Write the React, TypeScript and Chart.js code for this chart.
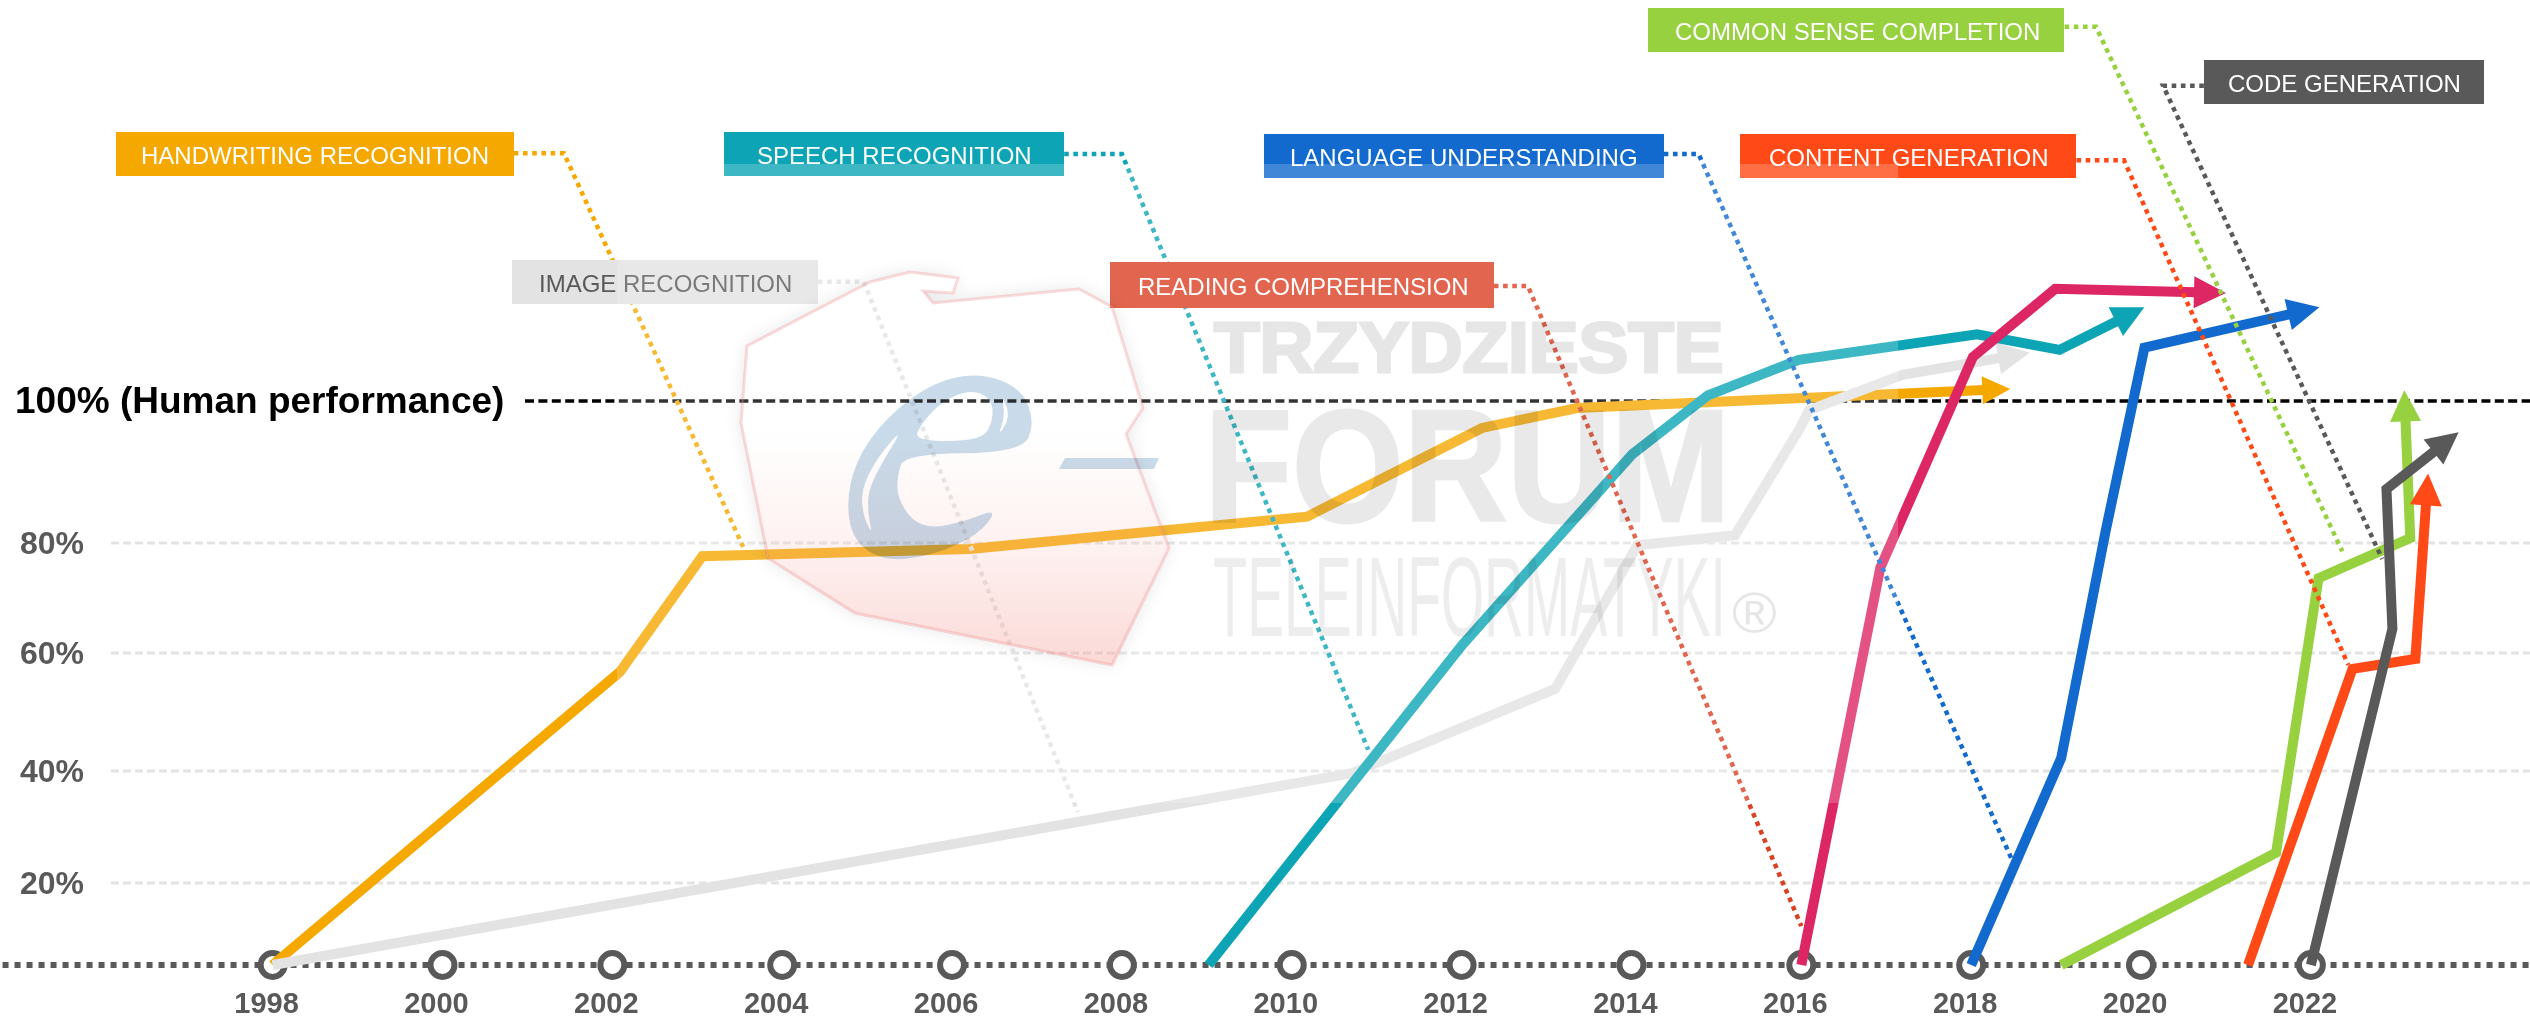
import React, { useEffect, useRef } from "react";
import { Chart, registerables, LinearScale } from "chart.js";

// ---------- chart data: [year, percent] ----------
const handwritingYears = [1998, 2002.09, 2003.06, 2006.21, 2010.18, 2012.24, 2013.36, 2015.95, 2018.46];
const handwritingValues = [0, 56.8, 77.6, 78.9, 83.7, 96.2, 99.0, 100.4, 101.7];
const imageYears = [1998, 2010.71, 2013.1, 2014.07, 2015.22, 2015.99, 2016.09, 2017.19, 2018.07, 2018.69];
const imageValues = [0, 39.6, 53.9, 79.6, 81.1, 96.3, 98.7, 103.7, 105.5, 106.8];
const speechYears = [2009.02, 2012.01, 2014.01, 2014.9, 2015.97, 2018.07, 2019.04, 2020.04];
const speechValues = [0, 61.5, 92.5, 100.8, 105.8, 109.4, 107.2, 113.2];
const readingYears = [2016, 2016.93, 2018.02, 2018.99, 2021.0];
const readingValues = [0, 75.5, 106.2, 115.8, 115.2];
const languageYears = [2018, 2019.06, 2019.58, 2020.04, 2022.1];
const languageValues = [0, 42.2, 81.5, 107.5, 113.2];
const commonYears = [2019.06, 2021.59, 2022.09, 2023.17, 2023.1];
const commonValues = [0, 25.4, 73.6, 80.7, 101.5];
const contentYears = [2021.26, 2022.49, 2023.23, 2023.38];
const contentValues = [0, 57.3, 59.0, 89.8];
const codeYears = [2022, 2022.96, 2022.89, 2023.74];
const codeValues = [0, 64.4, 87.6, 95.6];

// ---------- leader lines from label to curve ----------
const leaderHandwritingYears = [2000.84, 2001.43, 2003.54];
const leaderHandwritingValues = [134.9, 134.9, 79.3];
const leaderImageYears = [2004.42, 2004.96, 2007.48];
const leaderImageValues = [116.8, 116.8, 32.7];
const leaderSpeechYears = [2007.32, 2008.0, 2010.9];
const leaderSpeechValues = [134.8, 134.8, 43.6];
const leaderLanguageYears = [2014.38, 2014.79, 2018.47];
const leaderLanguageValues = [134.8, 134.8, 24.5];
const leaderContentYears = [2019.24, 2019.8, 2022.44];
const leaderContentValues = [133.9, 133.9, 58.0];
const leaderReadingYears = [2012.38, 2012.78, 2016.0];
const leaderReadingValues = [116.2, 116.2, 9.5];
const leaderCommonYears = [2019.1, 2019.47, 2022.37];
const leaderCommonValues = [152.7, 152.7, 78.5];
const leaderCodeYears = [2020.74, 2020.26, 2022.84];
const leaderCodeValues = [144.4, 144.4, 77.1];

const yearTicks = [1998, 2000, 2002, 2004, 2006, 2008, 2010, 2012, 2014, 2016, 2018, 2020, 2022];
const percentTicks = [20, 40, 60, 80, 100];
const seriesLabels = [
  "HANDWRITING RECOGNITION",
  "IMAGE RECOGNITION",
  "SPEECH RECOGNITION",
  "READING COMPREHENSION",
  "LANGUAGE UNDERSTANDING",
  "COMMON SENSE COMPLETION",
  "CONTENT GENERATION",
  "CODE GENERATION",
];

// ---------- styles and layout ----------
const ORANGE = "#F5A800";
const LIGHT = "#E3E3E3";
const TEAL = "#0DA5B5";
const PINK = "#DD2765";
const RED = "#DB4024";
const BLUE = "#1269CE";
const GREEN = "#97D13F";
const FLAME = "#FF4A17";
const DARK = "#595959";
const SANS = '"Liberation Sans", Arial, sans-serif';

// the reference's value axis is unevenly spaced: value stops and where they sit on the canvas
const axisStopValues = [0, 20, 40, 60, 80, 100];
const axisStopPixels = [965, 883, 771, 653, 543, 401];

class UnevenScale extends LinearScale {
  static id = "uneven";
  static defaults = {};
  getPixelForValue(v: number) {
    const n = axisStopValues.length;
    let i = 0;
    if (v >= axisStopValues[n - 1]) i = n - 2;
    else while (i < n - 2 && v > axisStopValues[i + 1]) i++;
    const t = (v - axisStopValues[i]) / (axisStopValues[i + 1] - axisStopValues[i]);
    return axisStopPixels[i] + t * (axisStopPixels[i + 1] - axisStopPixels[i]);
  }
  _computeLabelItems(area: any) {
    const items = (LinearScale.prototype as any)._computeLabelItems.call(this, area);
    items.forEach((it: any) => {
      const t = it.options.translation;
      const big = String(it.label).startsWith("100%");
      it.options.translation = [t[0] - (big ? 5 : 0), t[1] + 2];
    });
    return items;
  }
}

Chart.register(...registerables, UnevenScale);

const labelBoxes = [
  { fill: ORANGE, ink: "#fff", x: 116, y: 132, w: 398, h: 44, tx: 141 },
  { fill: LIGHT, ink: DARK, x: 512, y: 260, w: 306, h: 44, tx: 539 },
  { fill: TEAL, ink: "#fff", x: 724, y: 132, w: 340, h: 44, tx: 757 },
  { fill: RED, ink: "#fff", x: 1110, y: 262, w: 384, h: 46, tx: 1138 },
  { fill: BLUE, ink: "#fff", x: 1264, y: 134, w: 400, h: 44, tx: 1290 },
  { fill: GREEN, ink: "#fff", x: 1648, y: 8, w: 416, h: 44, tx: 1675 },
  { fill: FLAME, ink: "#fff", x: 1740, y: 134, w: 336, h: 44, tx: 1769 },
  { fill: DARK, ink: "#fff", x: 2204, y: 60, w: 280, h: 44, tx: 2228 },
];

const polandOutline = [
  [910, 272], [958, 278], [953, 293], [923, 291], [933, 303], [1079, 289], [1112, 307],
  [1143, 408], [1126, 434], [1169, 548], [1112, 665], [855, 613], [768, 558], [741, 423],
  [747, 346], [870, 282],
];

// outline of the logo's "e", in the watermark's own drawing units
const logoBody = [
  [965, 608], [1005, 520], [965, 415], [840, 368], [700, 395], [555, 505], [465, 635], [438, 770],
  [465, 880], [560, 935], [700, 915], [835, 855], [895, 775], [800, 812], [700, 835], [635, 812],
  [592, 740], [592, 680], [612, 612],
];
const logoEye = [[640, 573], [845, 573], [880, 510], [875, 445], [810, 418], [725, 455], [665, 520]];
const logoSwoosh = [[612, 530], [530, 625], [483, 720], [490, 800], [518, 855], [503, 790], [505, 720], [545, 640]];
const logoGlint = [[905, 435], [932, 500], [892, 562], [915, 500]];

function zip(xs: number[], ys: number[]) {
  return xs.map((x, i) => ({ x, y: ys[i] }));
}

function fitText(ctx: CanvasRenderingContext2D, text: string, font: string, x0: number, x1: number, top: number, bottom: number, color: string) {
  ctx.save();
  ctx.globalCompositeOperation = "multiply";
  ctx.font = font;
  ctx.textBaseline = "alphabetic";
  ctx.textAlign = "left";
  ctx.fillStyle = color;
  const m = ctx.measureText(text);
  const w = m.actualBoundingBoxLeft + m.actualBoundingBoxRight;
  const h = m.actualBoundingBoxAscent + m.actualBoundingBoxDescent;
  ctx.translate(x0, top);
  ctx.scale((x1 - x0) / w, (bottom - top) / h);
  ctx.fillText(text, m.actualBoundingBoxLeft, m.actualBoundingBoxAscent);
  ctx.restore();
}

// fill + stroke in one compositing step, so overlaps don't darken twice
function heavyText(ctx: CanvasRenderingContext2D, text: string, font: string, x0: number, x1: number, top: number, bottom: number, color: string, stroke: number) {
  const off = document.createElement("canvas");
  off.width = 2530;
  off.height = 1024;
  const o = off.getContext("2d") as CanvasRenderingContext2D;
  o.font = font;
  o.textBaseline = "alphabetic";
  o.fillStyle = color;
  o.strokeStyle = color;
  o.lineJoin = "miter";
  const m = o.measureText(text);
  const w = m.actualBoundingBoxLeft + m.actualBoundingBoxRight;
  const h = m.actualBoundingBoxAscent + m.actualBoundingBoxDescent;
  o.translate(x0, top);
  o.scale((x1 - x0) / w, (bottom - top) / h);
  o.lineWidth = stroke;
  o.fillText(text, m.actualBoundingBoxLeft, m.actualBoundingBoxAscent);
  o.strokeText(text, m.actualBoundingBoxLeft, m.actualBoundingBoxAscent);
  ctx.save();
  ctx.globalCompositeOperation = "multiply";
  ctx.drawImage(off, 0, 0);
  ctx.restore();
}

function smoothLoop(ctx: CanvasRenderingContext2D, pts: number[][]) {
  const P = (p: number[]) => [700 + p[0] / 3, 250 + p[1] / 3];
  const n = pts.length;
  const a = P(pts[0]);
  const b = P(pts[n - 1]);
  ctx.moveTo((a[0] + b[0]) / 2, (a[1] + b[1]) / 2);
  for (let i = 0; i < n; i++) {
    const c = P(pts[i]);
    const d = P(pts[(i + 1) % n]);
    ctx.quadraticCurveTo(c[0], c[1], (c[0] + d[0]) / 2, (c[1] + d[1]) / 2);
  }
  ctx.closePath();
}

const gridPlugin = {
  id: "referenceLines",
  beforeDatasetsDraw(chart: any) {
    const { ctx, scales } = chart;
    ctx.save();
    for (const v of percentTicks) {
      const y = scales.y.getPixelForValue(v);
      ctx.beginPath();
      if (v === 100) {
        ctx.strokeStyle = "#000";
        ctx.lineWidth = 3.5;
        ctx.setLineDash([9, 4.4]);
        ctx.moveTo(525, y);
      } else {
        ctx.strokeStyle = LIGHT;
        ctx.lineWidth = 3;
        ctx.setLineDash([8, 4]);
        ctx.moveTo(111, y);
      }
      ctx.lineTo(2530, y);
      ctx.stroke();
    }
    ctx.restore();
  },
};

const arrowPlugin = {
  id: "arrowHeads",
  beforeDatasetDraw(chart: any, args: any) {
    const ds = chart.data.datasets[args.index];
    if (!ds.arrowSize) return;
    const { x: xs, y: ys } = chart.scales;
    const pts = args.meta.data;
    const n = ds.data.length;
    const tx = xs.getPixelForValue(ds.data[n - 1].x);
    const ty = ys.getPixelForValue(ds.data[n - 1].y);
    const px = xs.getPixelForValue(ds.data[n - 2].x);
    const py = ys.getPixelForValue(ds.data[n - 2].y);
    const len = Math.hypot(tx - px, ty - py);
    pts[n - 1].x = tx - ((tx - px) / len) * (ds.arrowSize - 2);
    pts[n - 1].y = ty - ((ty - py) / len) * (ds.arrowSize - 2);
  },
  afterDatasetDraw(chart: any, args: any) {
    const ds = chart.data.datasets[args.index];
    if (!ds.arrowSize) return;
    const { ctx } = chart;
    const { x: xs, y: ys } = chart.scales;
    const n = ds.data.length;
    const tx = xs.getPixelForValue(ds.data[n - 1].x);
    const ty = ys.getPixelForValue(ds.data[n - 1].y);
    const px = xs.getPixelForValue(ds.data[n - 2].x);
    const py = ys.getPixelForValue(ds.data[n - 2].y);
    const a = Math.atan2(ty - py, tx - px);
    const s = ds.arrowSize;
    ctx.save();
    ctx.translate(tx, ty);
    ctx.rotate(a);
    ctx.fillStyle = ds.borderColor;
    ctx.beginPath();
    ctx.moveTo(0, 0);
    ctx.lineTo(-s, -s / 2);
    ctx.lineTo(-s, s / 2);
    ctx.closePath();
    ctx.fill();
    ctx.restore();
  },
};

const overlayPlugin = {
  id: "labelsAndWatermark",
  afterDatasetsDraw(chart: any) {
    const { ctx } = chart;
    ctx.save();
    // label boxes
    ctx.textBaseline = "middle";
    ctx.textAlign = "left";
    ctx.font = `24px ${SANS}`;
    labelBoxes.forEach((b, i) => {
      ctx.fillStyle = b.fill;
      ctx.fillRect(b.x, b.y, b.w, b.h);
      ctx.fillStyle = b.ink;
      ctx.fillText(seriesLabels[i], b.tx, b.y + b.h / 2 + 3);
    });
    // whitening layer of the watermark
    ctx.fillStyle = "rgba(255,255,255,0.2)";
    ctx.fillRect(617, 164, 1898 - 617, 803 - 164);
    // map
    const outline = () => {
      polandOutline.forEach(([x, y], i) => (i ? ctx.lineTo(x, y) : ctx.moveTo(x, y)));
      ctx.closePath();
    };
    ctx.save();
    ctx.beginPath();
    ctx.rect(0, 0, 2530, 1024);
    outline();
    ctx.clip("evenodd");
    ctx.beginPath();
    outline();
    ctx.shadowColor = "rgba(0,0,0,0.10)";
    ctx.shadowBlur = 18;
    ctx.fillStyle = "#fff";
    ctx.fill();
    ctx.restore();
    const grad = ctx.createLinearGradient(0, 430, 0, 665);
    grad.addColorStop(0, "rgba(240,120,110,0)");
    grad.addColorStop(0.5, "rgba(240,120,110,0.1)");
    grad.addColorStop(1, "rgba(240,120,110,0.28)");
    ctx.beginPath();
    outline();
    ctx.fillStyle = grad;
    ctx.fill();
    ctx.strokeStyle = "rgba(240,110,110,0.25)";
    ctx.lineWidth = 3;
    ctx.stroke();
    // logo
    ctx.save();
    ctx.globalCompositeOperation = "multiply";
    ctx.fillStyle = "#C9DBEA";
    ctx.beginPath();
    smoothLoop(ctx, logoBody);
    smoothLoop(ctx, logoEye);
    smoothLoop(ctx, logoSwoosh);
    smoothLoop(ctx, logoGlint);
    ctx.fill("evenodd");
    ctx.beginPath();
    ctx.moveTo(1065, 458);
    ctx.lineTo(1159, 458);
    ctx.lineTo(1154, 469);
    ctx.lineTo(1059, 469);
    ctx.closePath();
    ctx.fill();
    ctx.restore();
    // watermark words
    heavyText(ctx, "TRZYDZIESTE", `bold 60px ${SANS}`, 1214, 1721, 322, 373, "#E6E6E6", 2.5);
    heavyText(ctx, "FORUM", `bold 120px ${SANS}`, 1214, 1721, 408, 522, "#E9E9E9", 2);
    fitText(ctx, "TELEINFORMATYKI", `80px ${SANS}`, 1214, 1721, 557, 637, "#EDEDED");
    fitText(ctx, "®", `40px ${SANS}`, 1732, 1776, 592, 633, "#E6E6E6");
    ctx.restore();
  },
};

function line(xs: number[], ys: number[], color: string, arrowSize: number) {
  return {
    data: zip(xs, ys),
    borderColor: color,
    borderWidth: 10,
    pointRadius: 0,
    tension: 0,
    fill: false,
    clip: false,
    borderCapStyle: "butt",
    borderJoinStyle: "miter",
    arrowSize,
  };
}

function leader(xs: number[], ys: number[], color: string) {
  return {
    data: zip(xs, ys),
    borderColor: color,
    borderWidth: 4.5,
    borderDash: [4.6, 4.6],
    pointRadius: 0,
    tension: 0,
    fill: false,
    clip: false,
    borderCapStyle: "butt",
    borderJoinStyle: "miter",
  };
}

export default function App() {
  const ref = useRef<HTMLCanvasElement | null>(null);
  useEffect(() => {
    document.body.style.margin = "0";
    const list: any[] = [
      {
        data: zip([1994.82, 2024.58], [0, 0]),
        borderColor: DARK,
        borderWidth: 6,
        borderDash: [6, 6],
        pointRadius: 0,
        clip: false,
      },
      {
        data: yearTicks.map((x) => ({ x, y: 0 })),
        showLine: false,
        pointStyle: "circle",
        pointRadius: 12,
        pointBorderWidth: 6,
        pointBorderColor: DARK,
        pointBackgroundColor: "#fff",
        clip: false,
      },
      line(handwritingYears, handwritingValues, ORANGE, 28),
      line(imageYears, imageValues, LIGHT, 32),
      line(speechYears, speechValues, TEAL, 32),
      line(readingYears, readingValues, PINK, 32),
      line(languageYears, languageValues, BLUE, 32),
      line(commonYears, commonValues, GREEN, 31),
      line(contentYears, contentValues, FLAME, 32),
      line(codeYears, codeValues, DARK, 32),
      leader(leaderHandwritingYears, leaderHandwritingValues, ORANGE),
      leader(leaderImageYears, leaderImageValues, LIGHT),
      leader(leaderSpeechYears, leaderSpeechValues, TEAL),
      leader(leaderLanguageYears, leaderLanguageValues, BLUE),
      leader(leaderContentYears, leaderContentValues, FLAME),
      leader(leaderReadingYears, leaderReadingValues, RED),
      leader(leaderCommonYears, leaderCommonValues, GREEN),
      leader(leaderCodeYears, leaderCodeValues, DARK),
    ];
    list.forEach((d, i) => (d.order = list.length - i));
    const chart = new Chart(ref.current as HTMLCanvasElement, {
      type: "line",
      data: { datasets: list },
      plugins: [gridPlugin, arrowPlugin, overlayPlugin],
      options: {
        animation: false,
        responsive: false,
        devicePixelRatio: 1,
        layout: { padding: 0, autoPadding: false },
        plugins: { legend: { display: false }, tooltip: { enabled: false } },
        events: [],
        scales: {
          x: {
            type: "linear",
            min: 1994.79,
            max: 2024.58,
            afterFit: (s: any) => {
              s.height = 59;
            },
            afterBuildTicks: (s: any) => {
              s.ticks = yearTicks.map((value) => ({ value }));
            },
            grid: { display: false, drawTicks: false },
            border: { display: false },
            ticks: {
              autoSkip: false,
              maxRotation: 0,
              minRotation: 0,
              padding: 23,
              labelOffset: -6,
              color: DARK,
              font: { family: SANS, size: 29, weight: "bold" },
              callback: (v: any) => String(v),
            },
          },
          y: {
            type: "uneven",
            min: 0,
            max: 160,
            afterFit: (s: any) => {
              s.width = 0;
            },
            afterBuildTicks: (s: any) => {
              s.ticks = percentTicks.map((value) => ({ value }));
            },
            grid: { display: false, drawTicks: false },
            border: { display: false },
            ticks: {
              autoSkip: false,
              mirror: true,
              padding: 20,
              color: (c: any) => (c.tick?.value === 100 ? "#000" : DARK),
              font: (c: any) => ({ family: SANS, size: c.tick?.value === 100 ? 37 : 32, weight: "bold" }),
              callback: (v: any) => (v === 100 ? "100% (Human performance)" : `${v}%`),
            },
          },
        },
      } as any,
    });
    return () => chart.destroy();
  }, []);
  return <canvas ref={ref} width={2530} height={1024} style={{ display: "block", width: 2530, height: 1024 }} />;
}
